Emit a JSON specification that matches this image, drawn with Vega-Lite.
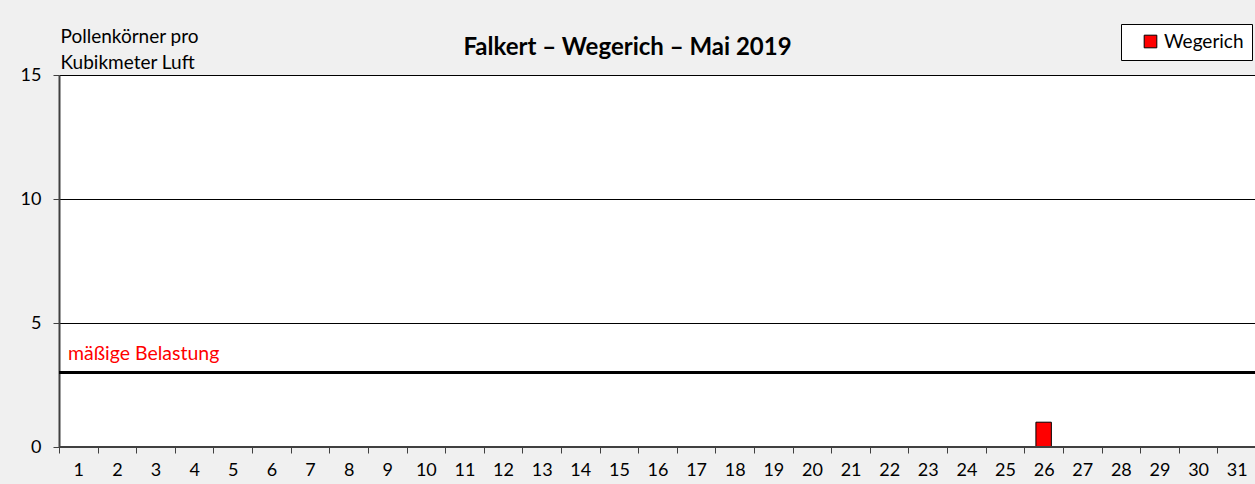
{
  "$schema": "https://vega.github.io/schema/vega-lite/v6.json",
  "width": 1197,
  "height": 372,
  "autosize": {"type": "none"},
  "padding": {"left": 59, "top": 75, "right": 0, "bottom": 37},
  "background": "#f0f0f0",
  "config": {
    "font": "Lato",
    "view": {"fill": "white", "stroke": null},
    "axis": {"labelFont": "Lato", "titleFont": "Lato"}
  },
  "title": {
    "text": "Falkert – Wegerich – Mai 2019",
    "fontSize": 24,
    "fontWeight": "bold",
    "font": "Lato",
    "color": "black",
    "anchor": "middle",
    "frame": "group",
    "dx": -30,
    "dy": 36,
    "offset": 0
  },
  "data": {"values": [
    {"day": "1", "value": 0, "series": "Wegerich"},
    {"day": "2", "value": 0, "series": "Wegerich"},
    {"day": "3", "value": 0, "series": "Wegerich"},
    {"day": "4", "value": 0, "series": "Wegerich"},
    {"day": "5", "value": 0, "series": "Wegerich"},
    {"day": "6", "value": 0, "series": "Wegerich"},
    {"day": "7", "value": 0, "series": "Wegerich"},
    {"day": "8", "value": 0, "series": "Wegerich"},
    {"day": "9", "value": 0, "series": "Wegerich"},
    {"day": "10", "value": 0, "series": "Wegerich"},
    {"day": "11", "value": 0, "series": "Wegerich"},
    {"day": "12", "value": 0, "series": "Wegerich"},
    {"day": "13", "value": 0, "series": "Wegerich"},
    {"day": "14", "value": 0, "series": "Wegerich"},
    {"day": "15", "value": 0, "series": "Wegerich"},
    {"day": "16", "value": 0, "series": "Wegerich"},
    {"day": "17", "value": 0, "series": "Wegerich"},
    {"day": "18", "value": 0, "series": "Wegerich"},
    {"day": "19", "value": 0, "series": "Wegerich"},
    {"day": "20", "value": 0, "series": "Wegerich"},
    {"day": "21", "value": 0, "series": "Wegerich"},
    {"day": "22", "value": 0, "series": "Wegerich"},
    {"day": "23", "value": 0, "series": "Wegerich"},
    {"day": "24", "value": 0, "series": "Wegerich"},
    {"day": "25", "value": 0, "series": "Wegerich"},
    {"day": "26", "value": 1, "series": "Wegerich"},
    {"day": "27", "value": 0, "series": "Wegerich"},
    {"day": "28", "value": 0, "series": "Wegerich"},
    {"day": "29", "value": 0, "series": "Wegerich"},
    {"day": "30", "value": 0, "series": "Wegerich"},
    {"day": "31", "value": 0, "series": "Wegerich"}
  ]},
  "encoding": {
    "x": {
      "field": "day",
      "type": "ordinal",
      "sort": null,
      "scale": {"paddingInner": 0, "paddingOuter": 0},
      "axis": {
        "title": null,
        "labelAngle": 0,
        "labelFontSize": 18,
        "labelColor": "black",
        "labelPadding": 8,
        "tickBand": "extent",
        "tickSize": 6,
        "tickColor": "#404040",
        "domain": false,
        "grid": false
      }
    }
  },
  "layer": [
    {
      "mark": {"type": "bar", "color": "#ff0000", "stroke": "black", "strokeWidth": 1, "width": {"band": 0.4}},
      "encoding": {
        "y": {
          "field": "value",
          "type": "quantitative",
          "scale": {"domain": [0, 15], "nice": false},
          "axis": {
            "values": [0, 5, 10, 15],
            "labelFontSize": 18,
            "labelColor": "black",
            "labelPadding": 12,
            "tickSize": 6,
            "tickColor": "#404040",
            "domainColor": "#404040",
            "domainWidth": 2,
            "grid": true,
            "gridColor": "black",
            "gridWidth": 1,
            "title": ["Pollenkörner pro", "Kubikmeter Luft"],
            "titleAngle": 0,
            "titleAlign": "left",
            "titleBaseline": "top",
            "titleFontSize": 19,
            "titleFontWeight": "normal",
            "titleColor": "black",
            "titleLineHeight": 26,
            "titleX": 1,
            "titleY": -48
          }
        },
        "color": {
          "field": "series",
          "type": "nominal",
          "scale": {"range": ["#ff0000"]},
          "legend": {
            "title": null,
            "orient": "none",
            "legendX": 1062,
            "legendY": -51,
            "symbolType": "square",
            "symbolSize": 160,
            "symbolOffset": 12,
            "symbolStrokeColor": "black",
            "symbolStrokeWidth": 1,
            "labelFontSize": 19,
            "labelFont": "Lato",
            "labelColor": "black",
            "fillColor": "white",
            "strokeColor": "black",
            "padding": 8
          }
        }
      }
    },
    {
      "data": {"values": [{"level": 3, "label": "mäßige Belastung"}]},
      "mark": {"type": "rule", "color": "black", "strokeWidth": 3},
      "encoding": {"y": {"field": "level", "type": "quantitative"}, "x": null}
    },
    {
      "data": {"values": [{"level": 3, "label": "mäßige Belastung", "day": "1"}]},
      "mark": {"type": "text", "color": "#ff0000", "fontSize": 19.5, "align": "left", "baseline": "bottom", "dx": 9, "dy": -9, "font": "Lato"},
      "encoding": {
        "x": {"field": "day", "type": "ordinal", "bandPosition": 0},
        "y": {"field": "level", "type": "quantitative"},
        "text": {"field": "label"}
      }
    },
    {
      "data": {"values": [{"level": 0}]},
      "mark": {"type": "rule", "color": "#404040", "strokeWidth": 2},
      "encoding": {"y": {"field": "level", "type": "quantitative"}, "x": null}
    }
  ]
}
